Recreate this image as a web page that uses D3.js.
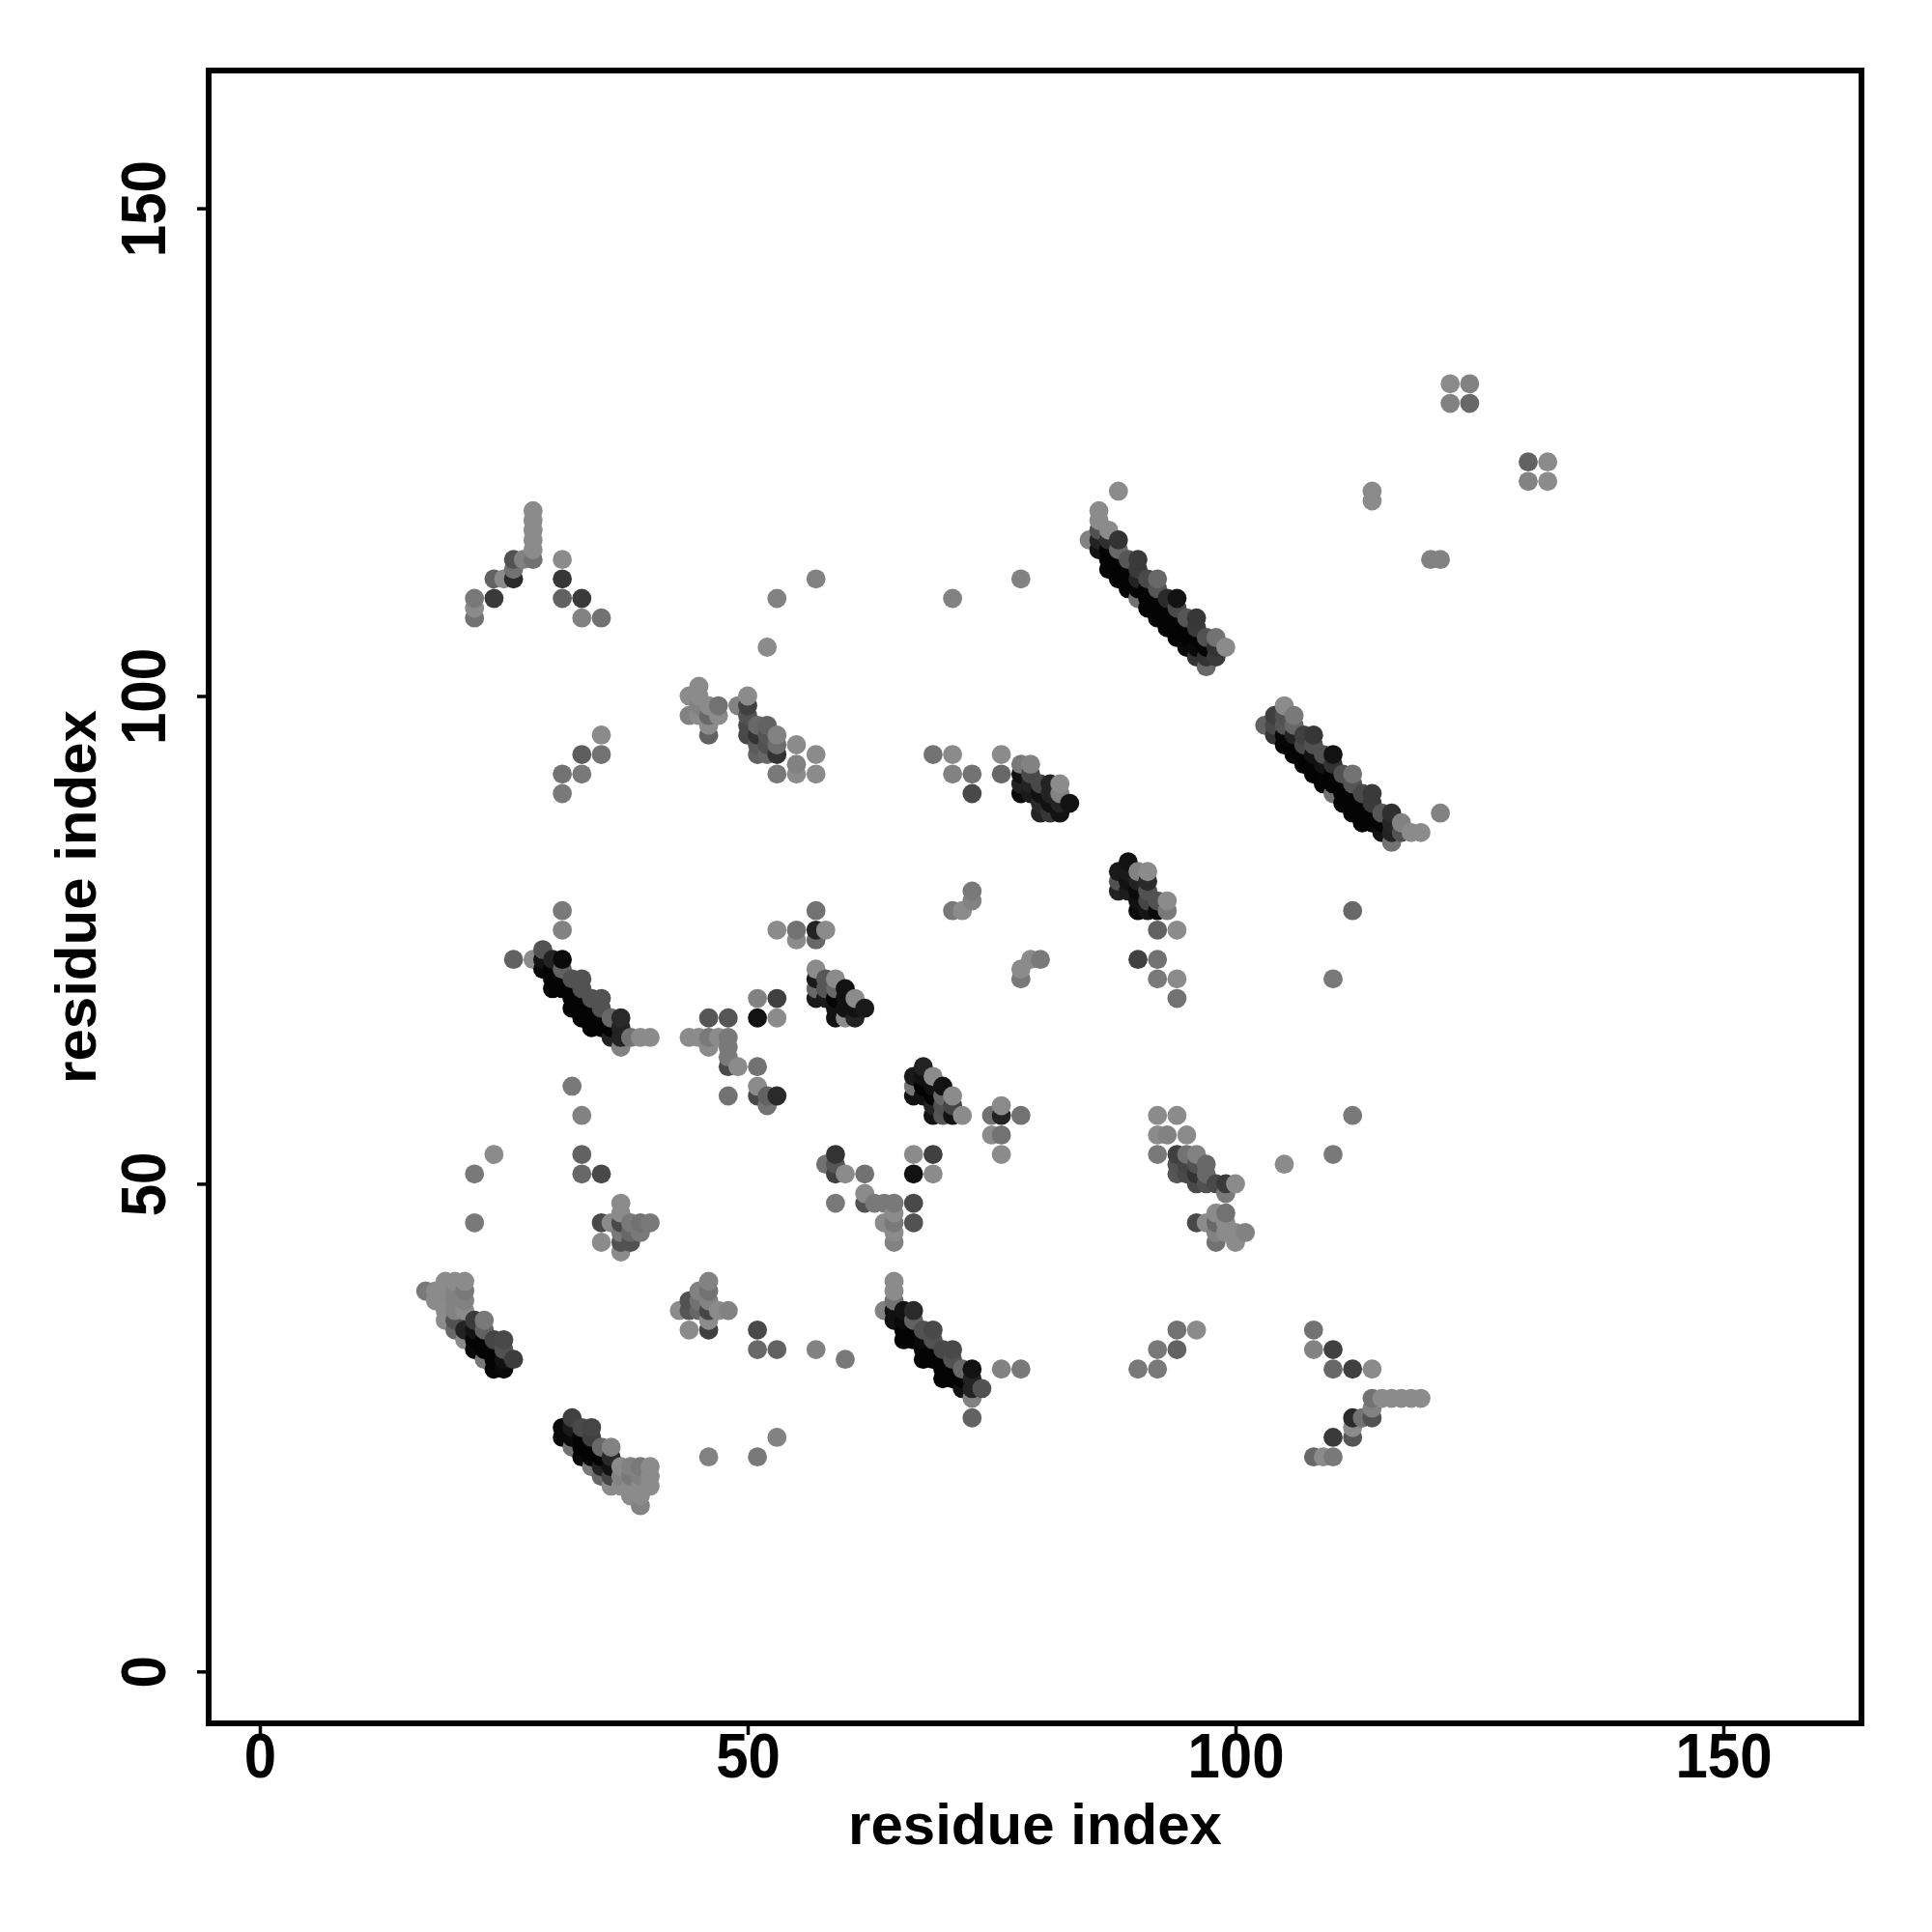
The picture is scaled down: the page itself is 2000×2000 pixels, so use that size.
<!DOCTYPE html>
<html><head><meta charset="utf-8">
<script src="https://cdn.jsdelivr.net/npm/d3@7"></script>
<style>html,body{margin:0;background:#fff}svg{display:block}
text{font-family:"Liberation Sans",Arial,sans-serif;font-weight:700;fill:#000}</style>
</head><body><svg id="c" width="2000" height="2000"></svg>
<script>
// Each entry: [residue i, residue j, contact score 0-100]
const tickValues=[0,50,100,150];
const axisTitle="residue index";
const helixA=[[17,39,17],[18,39,5],[18,38,5],[19,40,5],[19,39,5],[19,38,5],[19,37,5],[19,36,5],[20,40,5],[20,39,11],[20,38,11],[20,37,11],[20,36,44],[20,35,29],[21,40,5],[21,39,17],[21,38,11],[21,37,5],[21,35,76],[21,34,5],[22,36,60],[22,35,88],[22,34,97],[22,33,93],[23,36,17],[23,35,33],[23,34,97],[23,33,97],[23,32,17],[24,34,53],[24,33,97],[24,32,97],[24,31,95],[25,34,50],[25,33,44],[25,32,88],[25,31,93],[26,32,58]];
const helixB=[[31,25,93],[31,24,93],[32,26,56],[32,25,82],[32,24,93],[32,23,22],[33,25,50],[33,24,97],[33,23,97],[33,22,93],[34,25,53],[34,24,56],[34,23,97],[34,22,97],[34,21,17],[35,23,29],[35,22,97],[35,21,76],[35,20,29],[36,23,11],[36,22,71],[36,21,88],[36,20,53],[36,19,5],[37,21,5],[37,20,11],[37,19,5],[38,21,11],[38,20,17],[38,19,5],[38,18,5],[39,21,17],[39,20,11],[39,19,5],[39,18,5],[39,17,11],[40,21,5],[40,20,5],[40,19,5]];
const patchC=[[43,37,5],[44,38,44],[44,37,41],[44,35,5],[45,39,11],[45,38,22],[45,37,29],[46,40,11],[46,39,22],[46,38,11],[46,37,53],[46,36,5],[46,35,56],[47,37,5],[48,37,11],[51,35,50],[51,33,29],[53,33,33],[57,33,11],[60,32,17],[46,22,11],[51,22,17],[53,24,11]];
const helixD=[[64,37,11],[65,40,5],[65,39,5],[65,38,22],[65,37,88],[65,36,88],[66,37,88],[66,36,93],[66,35,97],[66,34,97],[67,37,71],[67,36,33],[67,35,97],[67,34,97],[68,35,44],[68,34,93],[68,33,97],[68,32,97],[69,35,50],[69,34,44],[69,33,97],[69,32,97],[70,33,50],[70,32,97],[70,31,97],[70,30,97],[71,33,50],[71,32,44],[71,31,97],[71,30,97],[72,31,29],[72,30,97],[72,29,88],[73,31,88],[73,30,76],[73,29,76],[73,28,11],[73,26,33],[74,29,44],[76,31,11],[78,31,17]];
const patchE=[[90,31,17],[92,31,17],[92,33,17],[94,33,33],[94,35,22],[96,35,5],[108,35,22],[108,33,11],[110,33,56],[110,31,29],[112,31,56],[114,31,5],[114,28,22],[115,28,5],[116,28,5],[117,28,5],[118,28,5],[119,28,5],[114,27,11],[112,26,71],[113,26,22],[114,26,44],[112,25,5],[112,24,41],[110,24,60],[108,22,29],[109,22,5],[110,22,17]];
const patchF=[[24,53,5],[22,51,17],[22,46,17],[32,60,17],[33,57,11],[33,53,33],[33,51,29],[35,51,50],[35,46,50],[35,44,5],[36,46,5],[37,48,5],[37,47,5],[37,46,50],[37,45,17],[37,44,44],[37,43,5],[38,46,17],[38,45,29],[38,44,44],[39,46,22],[39,45,17],[40,46,17]];
const patchG=[[58,52,22],[59,53,65],[59,52,41],[59,51,56],[59,48,17],[60,51,5],[62,51,22],[62,49,5],[62,48,44],[63,48,17],[64,48,17],[64,46,5],[65,48,17],[65,47,5],[65,46,17],[65,45,5],[65,44,11],[67,53,5],[67,51,88],[67,48,50],[67,46,44],[69,53,56],[69,51,5]];
const patchH=[[67,61,82],[67,60,17],[67,59,88],[68,62,76],[68,61,88],[68,60,97],[68,59,88],[69,61,5],[69,60,88],[69,59,97],[69,58,76],[69,57,88],[70,60,88],[70,59,29],[70,58,44],[70,57,41],[71,59,5],[71,58,53],[71,57,88],[72,57,5],[75,57,22],[75,55,5],[76,58,5],[76,57,76],[76,55,22],[76,53,5],[78,57,22]];
const patchI=[[92,57,5],[94,57,5],[92,55,5],[93,55,11],[95,55,5],[92,53,17],[94,53,56],[95,53,22],[96,53,11],[94,52,44],[95,52,53],[96,52,44],[97,52,29],[94,51,41],[95,51,50],[96,51,65],[97,51,29],[96,50,50],[97,50,44],[98,50,50],[99,50,60],[100,50,5],[99,49,17],[96,46,50],[97,46,5],[98,47,5],[99,47,22],[98,46,29],[99,46,5],[98,45,11],[99,45,5],[100,45,5],[101,45,11],[98,44,22],[100,44,5],[105,52,5],[110,53,17],[112,57,17]];
const helixJ=[[26,73,33],[28,73,5],[29,74,44],[29,73,88],[29,72,93],[30,73,76],[30,72,97],[30,71,97],[30,70,97],[31,78,17],[31,76,11],[31,73,93],[31,72,33],[31,71,97],[31,70,97],[32,71,44],[32,70,97],[32,69,97],[32,68,97],[33,71,44],[33,70,44],[33,69,97],[33,68,97],[33,67,97],[34,69,44],[34,68,97],[34,67,97],[34,66,97],[35,69,44],[35,68,44],[35,67,97],[35,66,97],[36,67,29],[36,66,97],[36,65,76],[37,67,71],[37,66,76],[37,65,76],[37,64,11],[38,65,22],[39,65,5],[40,65,5]];
const patchK=[[44,65,5],[45,65,5],[46,67,41],[46,65,17],[46,64,5],[47,65,5],[48,67,41],[48,65,17],[48,64,17],[48,63,17],[48,62,50],[48,59,22],[49,62,5],[51,69,11],[51,67,88],[51,62,22],[51,60,5],[51,59,50],[52,59,33],[52,58,22],[53,69,56],[53,67,5],[53,59,71]];
const patchL=[[53,76,5],[55,76,22],[55,75,5],[57,78,22],[57,76,76],[57,75,29],[58,76,5],[57,72,5],[57,71,82],[58,71,41],[59,71,5],[57,70,29],[58,70,41],[59,70,29],[60,70,88],[57,69,82],[58,69,82],[59,69,97],[60,69,88],[61,69,5],[59,68,88],[60,68,88],[61,68,88],[62,68,82],[59,67,88],[60,67,5],[61,67,76]];
const patchM=[[71,78,17],[72,78,5],[73,80,17],[73,79,11],[78,71,17],[78,72,5],[79,73,5],[80,73,17],[89,83,88],[88,82,82],[89,82,82],[90,82,11],[91,82,5],[88,81,44],[89,81,88],[90,81,76],[91,81,71],[88,80,76],[89,80,80],[90,80,93],[91,80,44],[90,79,88],[91,79,53],[92,79,44],[93,79,5],[90,78,93],[91,78,85],[92,78,93],[93,78,17],[92,76,33],[94,76,5],[90,73,56],[92,73,22],[92,71,17],[94,71,5],[94,69,22],[110,71,17],[112,78,29]];
const patchN=[[22,110,17],[22,109,5],[22,108,22],[24,112,33],[24,110,60],[25,112,5],[26,114,44],[26,113,22],[26,112,71],[27,114,11],[28,119,5],[28,118,5],[28,117,5],[28,116,5],[28,115,5],[28,114,22],[31,114,5],[31,112,62],[31,110,33],[33,110,60],[33,108,11],[35,108,22],[35,96,5],[35,94,22],[33,94,36],[33,92,17],[31,92,22],[31,90,17]];
const patchO=[[44,100,5],[44,98,11],[45,101,5],[45,100,5],[45,99,11],[45,98,5],[46,99,5],[46,98,29],[46,97,5],[46,96,33],[47,99,22],[47,98,5],[49,99,11],[50,100,5],[50,99,56],[50,98,44],[50,97,50],[50,96,50],[51,97,29],[51,96,65],[51,95,38],[51,94,33],[52,97,33],[52,96,41],[52,95,44],[52,94,29],[53,96,11],[53,95,25],[53,94,65],[53,92,17],[55,95,5],[55,93,11],[55,92,5],[57,94,5],[57,92,5],[52,105,5],[53,110,11],[57,112,11],[71,110,11],[78,112,11]];
const patchP=[[69,94,22],[71,94,5],[71,92,11],[73,92,22],[73,90,50],[76,94,5],[76,92,29],[78,93,17],[79,93,11],[78,92,88],[78,91,76],[78,90,93],[79,92,50],[79,91,76],[79,90,82],[80,91,50],[80,90,88],[80,89,71],[80,88,76],[81,91,76],[81,90,76],[81,89,88],[81,88,62],[82,91,5],[82,90,11],[82,89,76],[82,88,88],[83,89,88]];
const helixQ=[[85,116,11],[86,119,5],[86,118,5],[86,117,44],[86,116,76],[86,115,88],[87,117,5],[87,116,68],[87,115,97],[87,114,97],[87,113,97],[88,121,5],[88,116,65],[88,115,29],[88,114,97],[88,113,97],[88,112,97],[89,114,41],[89,113,97],[89,112,97],[89,111,97],[90,114,60],[90,113,60],[90,112,76],[90,111,97],[90,110,22],[91,112,50],[91,111,97],[91,110,97],[91,109,97],[92,112,29],[92,111,41],[92,110,97],[92,109,97],[92,108,97],[93,110,71],[93,109,97],[93,108,97],[93,107,97],[94,110,88],[94,109,50],[94,108,97],[94,107,97],[94,106,97],[95,108,41],[95,107,97],[95,106,97],[95,105,93],[96,108,62],[96,107,60],[96,106,97],[96,105,93],[96,104,65],[97,106,44],[97,105,97],[97,104,65],[97,103,29],[98,106,22],[98,105,65],[98,104,60],[99,105,5]];
const helixR=[[103,97,33],[104,98,56],[104,97,50],[104,96,65],[105,99,5],[105,98,44],[105,97,41],[105,96,95],[105,95,97],[106,98,17],[106,97,29],[106,96,76],[106,95,97],[106,94,97],[107,96,56],[107,95,50],[107,94,97],[107,93,97],[108,96,62],[108,95,44],[108,94,88],[108,93,97],[108,92,97],[109,94,44],[109,93,88],[109,92,97],[109,91,97],[110,94,88],[110,93,65],[110,92,97],[110,91,97],[110,90,22],[111,92,44],[111,91,97],[111,90,97],[111,89,97],[112,92,22],[112,91,41],[112,90,97],[112,89,97],[112,88,97],[113,90,50],[113,89,97],[113,88,97],[113,87,97],[114,90,60],[114,89,60],[114,88,97],[114,87,97],[115,88,41],[115,87,97],[115,86,88],[116,88,68],[116,87,74],[116,86,76],[116,85,22],[117,87,11],[117,86,44],[118,86,5],[119,86,5],[121,88,11]];
const patchS=[[114,121,5],[114,120,5],[120,114,11],[121,114,11],[122,132,5],[124,132,11],[122,130,11],[124,130,29],[130,124,33],[132,124,5],[130,122,11],[132,122,5]];

const contacts=[helixA,helixB,patchC,helixD,patchE,patchF,patchG,patchH,patchI,helixJ,patchK,patchL,patchM,patchN,patchO,patchP,helixQ,helixR,patchS].flat()
  .sort((a,b)=>d3.ascending(a[0],b[0])||d3.ascending(a[1],b[1]));

const svg=d3.select("#c");
const box={l:216,r:1927,t:73,b:1784};
const x=d3.scaleLinear().domain([0,150]).range([269,1784]);
const y=d3.scaleLinear().domain([0,150]).range([1730.3,215.6]);
const shade=d3.scaleLinear().domain([0,100]).range(["#929292","#000000"]);

svg.append("g").selectAll("circle").data(contacts).join("circle")
  .attr("cx",d=>x(d[0])).attr("cy",d=>y(d[1])).attr("r",9.9).attr("fill",d=>shade(d[2]));

svg.append("rect").attr("x",box.l).attr("y",box.t).attr("width",box.r-box.l).attr("height",box.b-box.t)
  .attr("fill","none").attr("stroke","#000").attr("stroke-width",6);

const gx=svg.append("g").attr("transform",`translate(0,${box.b})`)
  .call(d3.axisBottom(x).tickValues(tickValues).tickSize(12).tickSizeOuter(0).tickPadding(0));
const gy=svg.append("g").attr("transform",`translate(${box.l},0)`)
  .call(d3.axisLeft(y).tickValues(tickValues).tickSize(12).tickSizeOuter(0).tickPadding(0));
[gx,gy].forEach(g=>{g.select(".domain").remove();g.selectAll("line").attr("stroke","#000").attr("stroke-width",3.5);
  g.selectAll("text").style("font-size","60px").style("font-family",'"Liberation Sans"').style("font-weight",700).attr("fill","#000");});
gx.selectAll("text").attr("y",0).attr("dy",0).attr("text-anchor","middle").attr("transform","translate(0,56) scale(1,1.07)");
gy.selectAll("text").attr("x",0).attr("y",0).attr("dy",0).attr("text-anchor","middle").attr("transform","translate(-45,0) rotate(-90) scale(1,1.07)");

svg.append("text").attr("x",(box.l+box.r)/2).attr("y",1909).attr("text-anchor","middle").style("font-size","60px").attr("transform",null).text(axisTitle);
svg.append("text").attr("transform",`translate(99,${(box.t+box.b)/2}) rotate(-90)`).attr("text-anchor","middle").style("font-size","60px").text(axisTitle);
</script></body></html>
